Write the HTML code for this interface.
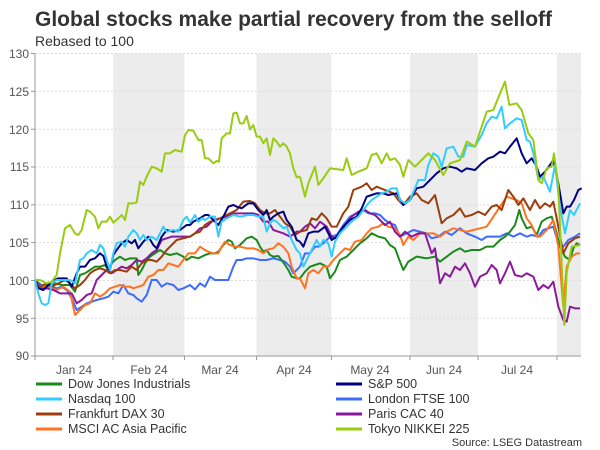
<!DOCTYPE html>
<html><head><meta charset="utf-8"><style>
html,body{margin:0;padding:0;background:#fff;}
svg{display:block;font-family:"Liberation Sans",Arial,sans-serif;}
</style></head><body>
<svg width="600" height="450" viewBox="0 0 600 450">
<rect width="600" height="450" fill="#fff"/>
<text x="35" y="26" font-size="21" font-weight="bold" fill="#333">Global stocks make partial recovery from the selloff</text>
<text x="35" y="46" font-size="14" fill="#333">Rebased to 100</text>
<!-- shaded bands -->
<g fill="#ececec">
<rect x="113" y="53.5" width="71.5" height="302.5"/>
<rect x="256.5" y="53.5" width="75" height="302.5"/>
<rect x="410" y="53.5" width="68" height="302.5"/>
<rect x="557" y="53.5" width="24" height="302.5"/>
</g>
<g stroke="#ddd" stroke-width="1" stroke-dasharray="2,2">
<line x1="35" x2="581" y1="53.5" y2="53.5"/><line x1="35" x2="581" y1="91.3" y2="91.3"/>
<line x1="35" x2="581" y1="129.2" y2="129.2"/><line x1="35" x2="581" y1="167" y2="167"/>
<line x1="35" x2="581" y1="204.8" y2="204.8"/><line x1="35" x2="581" y1="242.6" y2="242.6"/>
<line x1="35" x2="581" y1="280.5" y2="280.5"/><line x1="35" x2="581" y1="318.3" y2="318.3"/>
</g>
<g stroke="#999" stroke-width="1">
<line x1="35" x2="35" y1="53.5" y2="356"/><line x1="35" x2="581" y1="356" y2="356"/>
<line x1="31" x2="35" y1="53.5" y2="53.5"/><line x1="31" x2="35" y1="91.3" y2="91.3"/><line x1="31" x2="35" y1="129.2" y2="129.2"/><line x1="31" x2="35" y1="167" y2="167"/><line x1="31" x2="35" y1="204.8" y2="204.8"/><line x1="31" x2="35" y1="242.6" y2="242.6"/><line x1="31" x2="35" y1="280.5" y2="280.5"/><line x1="31" x2="35" y1="318.3" y2="318.3"/><line x1="31" x2="35" y1="356" y2="356"/>
<line x1="35" x2="35" y1="356" y2="360"/><line x1="113" x2="113" y1="356" y2="360"/><line x1="184.5" x2="184.5" y1="356" y2="360"/><line x1="256.5" x2="256.5" y1="356" y2="360"/><line x1="331.5" x2="331.5" y1="356" y2="360"/><line x1="410" x2="410" y1="356" y2="360"/><line x1="478" x2="478" y1="356" y2="360"/><line x1="557" x2="557" y1="356" y2="360"/>
</g>
<g font-size="12" fill="#555" text-anchor="end">
<text x="29" y="58">130</text><text x="29" y="96">125</text><text x="29" y="134">120</text><text x="29" y="171">115</text><text x="29" y="209">110</text><text x="29" y="247">105</text><text x="29" y="285">100</text><text x="29" y="323">95</text><text x="29" y="360">90</text>
</g>
<g font-size="12" fill="#555" text-anchor="middle">
<text x="74" y="374">Jan 24</text><text x="149" y="374">Feb 24</text><text x="220" y="374">Mar 24</text><text x="294" y="374">Apr 24</text><text x="370" y="374">May 24</text><text x="444" y="374">Jun 24</text><text x="517" y="374">Jul 24</text>
</g>
<defs><clipPath id="c"><rect x="34" y="40" width="548" height="320"/></clipPath></defs>
<g clip-path="url(#c)" fill="none" stroke-width="2" stroke-linejoin="round">
<g transform="translate(0,40) scale(0.33333)">
<polyline vector-effect="non-scaling-stroke" stroke="#3d6bff" points="105,720 125,735 140,745 155,740 170,745 185,740 200,750 215,775 230,810 245,800 260,790 275,785 290,780 310,775 325,770 340,755 355,760 370,735 385,760 400,765 410,775 425,785 440,765 455,720 470,720 485,740 500,730 520,735 535,750 550,745 570,735 585,748 600,730 615,740 630,710 645,720 665,720 685,720 700,680 710,660 725,660 740,655 760,655 780,660 800,660 820,655 840,660 855,665 870,680 880,700 900,680"/>
<polyline vector-effect="non-scaling-stroke" stroke="#1a8a1a" points="105,720 120,745 135,735 150,740 165,730 185,735 210,735 225,755 240,705 255,700 270,690 285,680 300,680 315,675 325,690 335,670 345,660 360,650 375,660 390,655 410,655 415,705 425,690 435,670 450,650 465,640 480,630 495,640 510,645 530,640 550,650 560,660 575,650 595,655 615,645 630,640 645,640 655,635 670,615 685,600 695,605 705,625 720,615 740,595 755,590 770,600 780,620 790,635 800,630 810,645 820,650 835,648 845,660 855,675 865,690 875,710 890,715 900,715"/>
<polyline vector-effect="non-scaling-stroke" stroke="#ff7320" points="105,720 120,740 140,740 155,745 170,750 190,740 210,755 225,825 240,810 255,795 270,790 285,760 300,770 315,760 330,745 345,740 360,735 375,740 390,740 400,745 415,740 430,735 445,710 460,705 475,690 490,690 505,670 520,675 535,680 550,660 565,640 585,640 600,620 615,630 625,635 640,640 655,640 665,620 675,605 690,615 705,620 720,620 740,625 760,625 775,630 790,640 805,628 820,625 835,610 850,620 865,640 875,680 890,715 900,715"/>
<polyline vector-effect="non-scaling-stroke" stroke="#8a1a9b" points="105,720 120,745 140,745 160,750 180,760 200,760 215,760 230,790 245,780 260,765 275,760 290,720 305,705 320,690 335,700 350,690 365,680 380,685 395,675 410,660 425,665 440,655 455,640 470,630 485,600 500,595 515,590 530,590 550,590 570,590 585,580 600,565 620,560 640,540 660,535 680,530 700,520 720,520 740,520 760,520 775,525 790,545 805,545 820,570 835,575 850,580 870,590 890,575 900,575"/>
<polyline vector-effect="non-scaling-stroke" stroke="#9c3d0c" points="105,720 120,740 140,730 155,740 175,730 195,720 210,730 225,745 240,735 255,720 270,700 285,690 300,685 315,690 330,700 345,690 360,690 380,695 395,680 410,690 425,670 440,660 455,660 470,665 485,650 500,630 515,615 530,600 550,595 570,590 585,580 600,575 615,555 630,545 650,540 670,530 690,520 710,510 730,485 750,483 765,490 780,510 795,520 810,520 825,510 840,530 855,550 870,560 885,585 900,575"/>
<polyline vector-effect="non-scaling-stroke" stroke="#000080" points="105,720 115,745 130,750 140,740 155,725 175,715 200,715 215,740 230,700 240,680 255,680 270,660 285,655 300,640 310,648 320,680 330,690 340,645 350,630 365,610 380,600 395,610 405,600 415,625 430,605 445,590 460,615 470,625 485,590 500,570 520,575 540,570 560,555 570,555 580,545 600,535 615,525 625,525 640,540 655,555 670,530 685,500 700,495 710,500 725,505 745,490 760,490 775,510 790,525 800,510 810,540 820,530 835,520 850,515 860,540 875,560 890,600 900,605"/>
<polyline vector-effect="non-scaling-stroke" stroke="#33ccff" points="105,720 115,760 125,790 135,795 145,790 155,730 170,720 190,720 210,720 225,730 240,660 250,655 260,640 275,630 290,640 300,615 310,625 320,660 330,690 340,640 350,610 365,605 375,620 385,590 400,570 410,580 420,600 430,585 440,600 455,590 470,600 490,560 500,575 520,570 535,575 550,540 560,530 570,548 585,525 595,545 605,535 615,540 630,530 645,530 655,590 665,545 680,535 700,525 720,530 745,525 760,525 775,530 790,530 800,575 810,550 820,540 830,545 850,565 860,560 875,600 890,630 900,640"/>
<polyline vector-effect="non-scaling-stroke" stroke="#99cc11" points="105,720 120,720 140,730 155,725 170,705 180,640 195,565 210,555 225,580 235,585 245,570 260,510 270,515 285,530 295,565 305,545 320,545 330,530 340,548 355,535 365,525 375,540 385,490 400,490 410,487 420,425 430,435 440,410 455,380 470,385 485,395 495,340 510,340 525,330 545,335 555,285 565,270 580,272 595,300 605,300 615,355 625,355 640,370 650,363 657,365 665,295 680,280 690,280 700,220 710,218 720,250 730,250 740,228 750,268 760,255 770,290 780,290 790,310 800,295 810,345 820,295 830,305 840,320 850,310 860,320 870,340 880,385 890,412 900,410"/>
</g>
<g transform="translate(300,40) scale(0.33333)">
<polyline vector-effect="non-scaling-stroke" stroke="#3d6bff" points="0,680 15,640 30,640 45,620 55,620 70,610 90,590 110,585 130,555 150,530 170,520 190,510 205,520 225,520 240,525 255,540 270,550 285,555 300,590 320,580 340,570 360,575 380,580 395,595 415,590 435,575 455,585 480,565 500,580 525,590 545,600 560,590 580,590 600,590 620,580 640,590 660,580 680,590 695,585 715,590 730,570 745,565 760,560 775,610 790,620 805,600 825,590 840,580"/>
<polyline vector-effect="non-scaling-stroke" stroke="#1a8a1a" points="0,715 15,695 30,680 45,675 60,670 80,680 90,715 105,695 120,660 140,650 160,630 180,610 200,595 215,580 235,590 255,595 270,615 285,625 300,665 310,690 325,665 350,650 380,655 405,650 420,665 440,650 460,635 480,625 495,635 515,630 540,630 560,620 580,620 600,600 615,590 630,575 645,555 658,510 665,535 680,565 695,560 710,585 725,545 740,535 755,530 765,560 780,620 795,650 810,660 820,625 830,610 840,615"/>
<polyline vector-effect="non-scaling-stroke" stroke="#ff7320" points="0,715 15,745 25,700 40,690 55,700 70,680 85,680 100,660 120,640 135,625 150,630 165,605 185,600 200,580 215,565 235,560 250,550 265,560 285,565 300,585 310,615 325,590 340,600 360,580 380,580 400,580 420,590 440,575 460,565 480,570 500,575 520,570 540,565 560,560 580,530 600,500 620,470 635,475 650,480 665,490 680,535 695,555 710,590 720,590 740,570 760,540 775,620 790,800 800,680 815,650 830,640 840,640"/>
<polyline vector-effect="non-scaling-stroke" stroke="#8a1a9b" points="0,575 15,560 30,550 45,565 60,545 80,560 95,590 105,595 120,580 135,555 155,530 175,515 195,510 210,520 225,525 240,540 255,555 270,545 285,575 300,590 315,575 335,590 355,580 375,580 395,640 405,625 420,730 435,700 450,710 465,680 480,690 495,670 510,700 525,740 540,710 560,700 575,675 590,690 600,730 615,700 630,665 645,705 665,710 680,700 700,710 715,750 730,735 745,745 760,725 775,800 790,840 800,845 810,800 825,805 840,805"/>
<polyline vector-effect="non-scaling-stroke" stroke="#9c3d0c" points="0,575 20,570 35,535 50,540 65,520 80,535 95,560 110,560 130,520 145,500 160,450 185,440 200,430 215,450 230,440 255,450 280,460 295,480 310,495 330,470 350,460 365,480 385,490 405,465 425,550 440,535 460,525 480,505 495,530 515,525 535,515 555,525 575,500 590,495 605,510 625,450 640,470 655,495 670,475 690,510 705,480 720,505 735,490 750,500 760,485 775,560 790,640 805,610 825,595 840,590"/>
<polyline vector-effect="non-scaling-stroke" stroke="#000080" points="0,605 10,620 25,580 40,575 55,575 75,560 95,600 110,590 130,560 150,540 170,530 185,505 200,470 215,465 230,460 250,460 265,465 290,460 310,495 330,480 350,445 370,440 390,420 410,400 430,385 450,380 470,385 485,395 500,385 525,390 545,370 565,355 580,350 600,335 615,340 630,320 650,295 665,340 680,370 695,355 710,380 720,410 735,395 750,375 760,360 775,430 790,520 800,500 810,500 822,480 835,450 845,445"/>
<polyline vector-effect="non-scaling-stroke" stroke="#33ccff" points="0,640 10,680 20,660 35,630 50,600 60,620 70,600 85,610 95,650 105,605 120,580 140,560 160,540 175,530 190,510 205,490 215,480 230,470 245,460 260,455 275,445 290,445 300,480 315,490 330,480 345,445 355,420 375,420 385,375 400,340 415,350 425,380 440,325 460,320 475,350 490,350 500,315 525,320 545,285 560,250 575,230 590,235 605,200 615,265 630,250 650,235 665,240 680,300 690,305 700,340 715,420 730,410 750,455 765,375 780,500 795,580 810,510 822,525 840,490"/>
<polyline vector-effect="non-scaling-stroke" stroke="#99cc11" points="0,410 15,470 25,430 45,380 55,435 70,415 90,385 130,390 140,355 155,405 175,395 200,385 215,345 230,340 245,370 260,340 270,360 285,355 300,375 310,410 325,360 345,380 365,360 385,340 405,360 430,405 450,370 480,360 500,305 525,320 545,260 560,215 580,210 600,160 615,125 628,195 650,190 665,210 685,280 700,300 715,420 725,430 740,385 755,380 762,340 775,440 793,855 800,700 815,620 840,615"/>
</g>
</g>
<!-- legend -->
<g stroke-width="3">
<line x1="36" x2="62" y1="384" y2="384" stroke="#1a8a1a"/>
<line x1="36" x2="62" y1="399" y2="399" stroke="#33ccff"/>
<line x1="36" x2="62" y1="414" y2="414" stroke="#9c3d0c"/>
<line x1="36" x2="62" y1="429" y2="429" stroke="#ff7320"/>
<line x1="336" x2="362" y1="384" y2="384" stroke="#000080"/>
<line x1="336" x2="362" y1="399" y2="399" stroke="#3d6bff"/>
<line x1="336" x2="362" y1="414" y2="414" stroke="#8a1a9b"/>
<line x1="336" x2="362" y1="429" y2="429" stroke="#99cc11"/>
</g>
<g font-size="12.5" fill="#333">
<text x="68" y="388">Dow Jones Industrials</text>
<text x="68" y="403">Nasdaq 100</text>
<text x="68" y="418">Frankfurt DAX 30</text>
<text x="68" y="433">MSCI AC Asia Pacific</text>
<text x="368" y="388">S&amp;P 500</text>
<text x="368" y="403">London FTSE 100</text>
<text x="368" y="418">Paris CAC 40</text>
<text x="368" y="433">Tokyo NIKKEI 225</text>
</g>
<text x="582" y="446" font-size="11" fill="#333" text-anchor="end">Source: LSEG Datastream</text>
</svg>
</body></html>
